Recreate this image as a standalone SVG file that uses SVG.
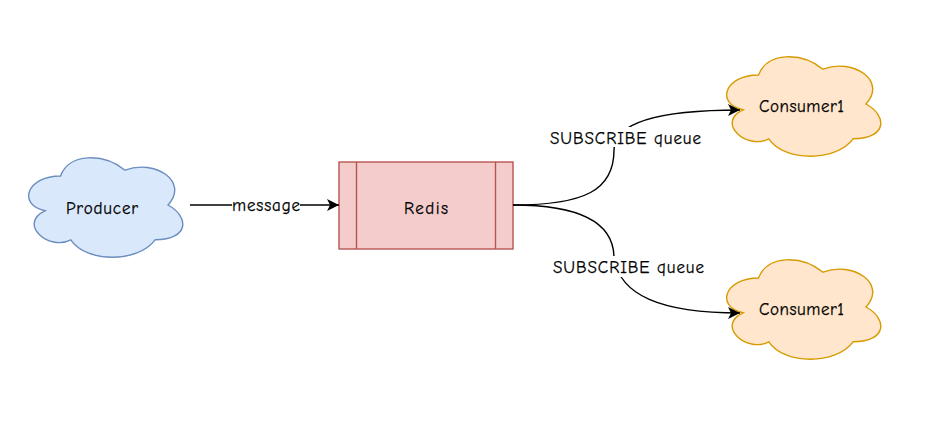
<svg xmlns="http://www.w3.org/2000/svg" width="928" height="424" viewBox="0 0 928 424">
<style>
text{font-family:"Comic Sans MS","Comic Neue",cursive;font-size:17px;fill:#000;stroke:#000;stroke-width:.25;text-anchor:middle}
.blue{fill:#dae8fc;stroke:#6c8ebf;stroke-width:1.4}
.orange{fill:#ffe6cc;stroke:#d79b00;stroke-width:1.4}
.red{fill:#f5cccc;stroke:#b85450;stroke-width:1.4}
.edge{fill:none;stroke:#000;stroke-width:1.4;marker-end:url(#arrow)}
.lbl{fill:#fff;stroke:none}
</style>
<defs>
<marker id="arrow" markerUnits="userSpaceOnUse" markerWidth="14" markerHeight="14" refX="12" refY="7" orient="auto"><path d="M0 1L12 7L0 13L3 7Z" fill="#000"/></marker>
<path id="cloud" d="M43 29C8.600 29 0 58 27.500 63.800C0 76.600 31 104.400 53.300 92.800C68.800 116 120.400 116 137.600 92.800C172 92.800 172 69.600 150.500 58C172 34.800 137.600 11.600 107.500 23.200C86 5.800 51.600 5.800 43 29Z"/>
</defs>
<g id="producer"><use href="#cloud" x="17.500" y="147" class="blue"/><text x="102" y="214" textLength="72">Producer</text></g>
<g id="redis"><rect class="red" x="339" y="162" width="174" height="87"/><path class="red" d="M356.500 162V249M495.500 162V249"/><text x="426" y="214" textLength="44">Redis</text></g>
<g id="consumer1"><use href="#cloud" x="715.500" y="46" class="orange"/><text x="801.500" y="112" textLength="85">Consumer1</text></g>
<g id="consumer2"><use href="#cloud" x="715.500" y="249" class="orange"/><text x="801.500" y="315" textLength="85">Consumer1</text></g>
<g id="connectors">
<path class="edge" d="M190 205H339"/>
<rect class="lbl" x="232" y="195" width="68" height="20"/>
<path class="edge" d="M513 205C585 205 614 190 614 150C614 125 650 110 740 110"/>
<rect class="lbl" x="550" y="127" width="151" height="20"/>
<path class="edge" d="M513 205C585 205 614 225 614 258C620 295 660 313 740 313"/>
<rect class="lbl" x="553" y="256" width="151" height="21"/>
<text x="266" y="211" textLength="68">message</text>
<text x="625.500" y="144" textLength="151">SUBSCRIBE queue</text>
<text x="628.500" y="273" textLength="151">SUBSCRIBE queue</text>
</g>
</svg>
